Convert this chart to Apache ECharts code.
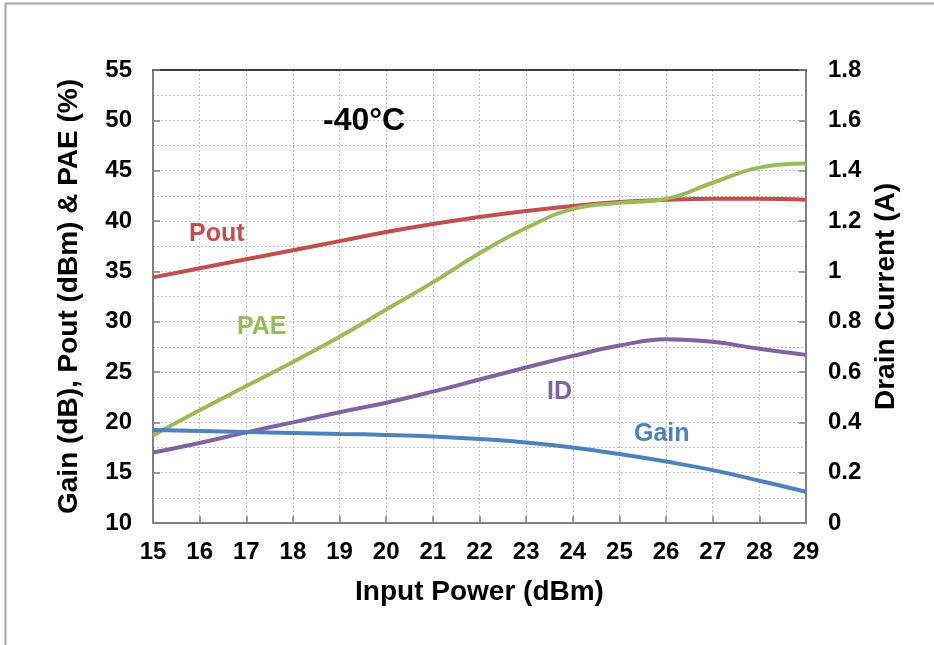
<!DOCTYPE html>
<html>
<head>
<meta charset="utf-8">
<script src="https://cdn.jsdelivr.net/npm/echarts@6/dist/echarts.min.js"></script>
<style>
  html, body { margin: 0; padding: 0; background: #fff; }
  #chart { width: 934px; height: 645px; }
</style>
</head>
<body>
<div id="chart"></div>
<script>
// input power sweep (dBm)
const inputPower = [15, 16, 17, 18, 19, 20, 21, 22, 23, 24, 25, 26, 27, 28, 29]
// left axis series
const pout = [34.4, 35.3, 36.2, 37.1, 38.0, 38.9, 39.7, 40.4, 41.0, 41.5, 41.9, 42.1, 42.2, 42.2, 42.1]
const pae = [18.7, 21.2, 23.6, 26.0, 28.5, 31.2, 33.9, 36.8, 39.3, 41.2, 41.8, 42.2, 43.8, 45.3, 45.7]
const gain = [19.25, 19.15, 19.05, 18.95, 18.85, 18.75, 18.6, 18.35, 18.0, 17.5, 16.85, 16.1, 15.25, 14.2, 13.1]
// right axis series (A)
const drainCurrent = [0.28, 0.318, 0.36, 0.4, 0.44, 0.478, 0.522, 0.57, 0.618, 0.664, 0.705, 0.73, 0.72, 0.692, 0.668]

const font = '"Liberation Sans", Arial, sans-serif'
const gridDot = { color: '#bfbfbf', type: [2, 2], width: 1 }

const pair = arr => arr.map((v, i) => [inputPower[i], v])

const chart = echarts.init(document.getElementById('chart'), null, { renderer: 'canvas' })

const lineSeries = (name, data, color, yIndex) => ({
  name,
  type: 'line',
  data: pair(data),
  yAxisIndex: yIndex,
  smooth: 0.45,
  symbol: 'none',
  lineStyle: { color, width: 4 },
  z: 3
})

const label = (text, x, y, color, size) => ({
  type: 'text',
  left: x,
  top: y,
  style: { text, fill: color, font: `bold ${size}px ${font}` },
  z: 10
})

const nameStyle = { color: '#000', fontSize: 28, fontWeight: 'bold', fontFamily: font }
const tickStyle = { color: '#000', fontSize: 24, fontWeight: 'bold', fontFamily: font }

let option = {
  backgroundColor: '#fff',
  animation: false,
  grid: { left: 153, right: 128, top: 70, bottom: 122, show: false },
  xAxis: [
    {
      type: 'value',
      min: 15,
      max: 29,
      interval: 1,
      name: 'Input Power (dBm)',
      nameLocation: 'middle',
      nameGap: 55,
      nameTextStyle: nameStyle,
      axisLine: { show: true, onZero: false, lineStyle: { color: '#808080', width: 2 } },
      axisTick: { show: true, inside: true, length: 7, lineStyle: { color: '#808080', width: 1.5 } },
      axisLabel: { ...tickStyle, margin: 17 },
      splitLine: { show: true, lineStyle: gridDot }
    },
    {
      // top frame line
      type: 'value',
      position: 'top',
      min: 15,
      max: 29,
      interval: 1,
      axisLine: { show: true, onZero: false, lineStyle: { color: '#404040', width: 2 } },
      axisTick: { show: false },
      axisLabel: { show: false },
      splitLine: { show: false }
    }
  ],
  yAxis: [
    {
      type: 'value',
      min: 10,
      max: 55,
      interval: 5,
      name: 'Gain (dB), Pout (dBm) & PAE (%)',
      nameLocation: 'middle',
      nameGap: 70,
      nameTextStyle: nameStyle,
      axisLine: { show: true, lineStyle: { color: '#808080', width: 2 } },
      axisTick: { show: true, inside: true, length: 7, lineStyle: { color: '#808080', width: 1.5 } },
      axisLabel: { ...tickStyle, margin: 21 },
      splitLine: { show: true, lineStyle: gridDot },
      minorTick: { show: false, splitNumber: 2 },
      minorSplitLine: { show: true, lineStyle: gridDot }
    },
    {
      type: 'value',
      position: 'right',
      min: 0,
      max: 1.8,
      interval: 0.2,
      name: 'Drain Current (A)',
      nameLocation: 'middle',
      nameGap: 64,
      nameRotate: 90,
      nameTextStyle: nameStyle,
      axisLine: { show: true, lineStyle: { color: '#808080', width: 2 } },
      axisTick: { show: true, inside: true, length: 7, lineStyle: { color: '#808080', width: 1.5 } },
      axisLabel: {
        ...tickStyle, margin: 22,
        formatter: v => String(Math.round(v * 10) / 10)
      },
      splitLine: { show: false }
    }
  ],
  graphic: [
    // outer frame (left + top edge)
    { type: 'line', shape: { x1: 5.5, y1: 3, x2: 5.5, y2: 645 }, style: { stroke: '#a6a6a6', lineWidth: 2 } },
    { type: 'line', shape: { x1: 5, y1: 3.5, x2: 934, y2: 3.5 }, style: { stroke: '#a6a6a6', lineWidth: 2 } },
    label('-40°C', 323, 105, '#000', 32),
    label('Pout', 189, 222, '#C0504D', 25),
    label('PAE', 237, 315, '#9BBB59', 25),
    label('ID', 547, 380, '#8064A2', 25),
    label('Gain', 634, 422, '#4F81BD', 25)
  ],
  series: [
    lineSeries('Pout', pout, '#C0504D', 0),
    lineSeries('PAE', pae, '#9BBB59', 0),
    lineSeries('ID', drainCurrent, '#8064A2', 1),
    lineSeries('Gain', gain, '#4F81BD', 0)
  ]
}

chart.setOption(option)
</script>
</body>
</html>
